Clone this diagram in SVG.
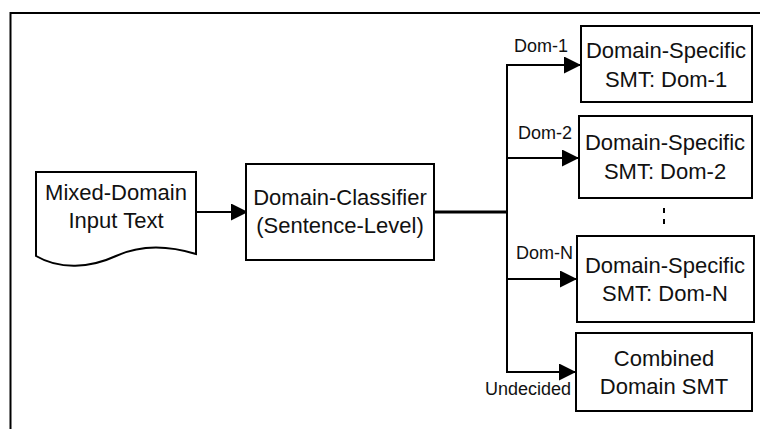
<svg xmlns="http://www.w3.org/2000/svg" width="760" height="429" viewBox="0 0 760 429">
<style>
.box{fill:#fff;stroke:#000;stroke-width:2}
.t{font-family:"Liberation Sans",Arial,sans-serif;font-size:22px;fill:#111;text-anchor:middle}
.l{font-family:"Liberation Sans",Arial,sans-serif;font-size:18px;fill:#111;text-anchor:end}
.c{fill:none;stroke:#000;stroke-width:2}
.thick{stroke-width:3}
</style>
<defs>
<marker id="ah" markerWidth="17" markerHeight="17" refX="17" refY="8.5" orient="auto" markerUnits="userSpaceOnUse">
<path d="M0,0 L17,8.5 L0,17 Z" fill="#000"/>
</marker>
</defs>
<rect width="760" height="429" fill="#fff"/>
<path d="M10.5,429 V13 H760" fill="none" stroke="#000" stroke-width="2"/>
<g id="connectors">
<line class="c" x1="196" y1="212" x2="248" y2="212" marker-end="url(#ah)"/>
<line class="c thick" x1="434" y1="212" x2="508" y2="212"/>
<line class="c" x1="507" y1="64" x2="507" y2="373"/>
<polyline class="c" points="506,65 581,65" marker-end="url(#ah)"/>
<polyline class="c" points="507,158 579,158" marker-end="url(#ah)"/>
<polyline class="c" points="507,279 577,279" marker-end="url(#ah)"/>
<polyline class="c" points="506,372 576,372" marker-end="url(#ah)"/>
<line x1="664" y1="208" x2="664" y2="226" stroke="#000" stroke-width="2" stroke-dasharray="5,6"/>
<text class="l" x="568" y="52">Dom-1</text>
<text class="l" x="572" y="139">Dom-2</text>
<text class="l" x="573" y="259">Dom-N</text>
<text class="l" x="571" y="395">Undecided</text>
</g>
<g id="input">
<path class="box" d="M36,172 H196 V254 C170,246 142,244 116,256 C90,268 60,270 36,256 Z"/>
<text class="t" x="116" y="200">Mixed-Domain</text>
<text class="t" x="116" y="228">Input Text</text>
</g>
<g id="classifier">
<rect class="box" x="246" y="164" width="188" height="96"/>
<text class="t" x="340" y="205">Domain-Classifier</text>
<text class="t" x="340" y="233">(Sentence-Level)</text>
</g>
<g id="smt1">
<rect class="box" x="581" y="26" width="171" height="76"/>
<text class="t" x="666" y="58">Domain-Specific</text>
<text class="t" x="666" y="87">SMT: Dom-1</text>
</g>
<g id="smt2">
<rect class="box" x="579" y="116" width="173" height="82"/>
<text class="t" x="665" y="150">Domain-Specific</text>
<text class="t" x="665" y="179">SMT: Dom-2</text>
</g>
<g id="smtN">
<rect class="box" x="577" y="236" width="177" height="86"/>
<text class="t" x="665" y="273">Domain-Specific</text>
<text class="t" x="665" y="301">SMT: Dom-N</text>
</g>
<g id="combined">
<rect class="box" x="576" y="333" width="176" height="78"/>
<text class="t" x="664" y="366">Combined</text>
<text class="t" x="664" y="394">Domain SMT</text>
</g>
</svg>
